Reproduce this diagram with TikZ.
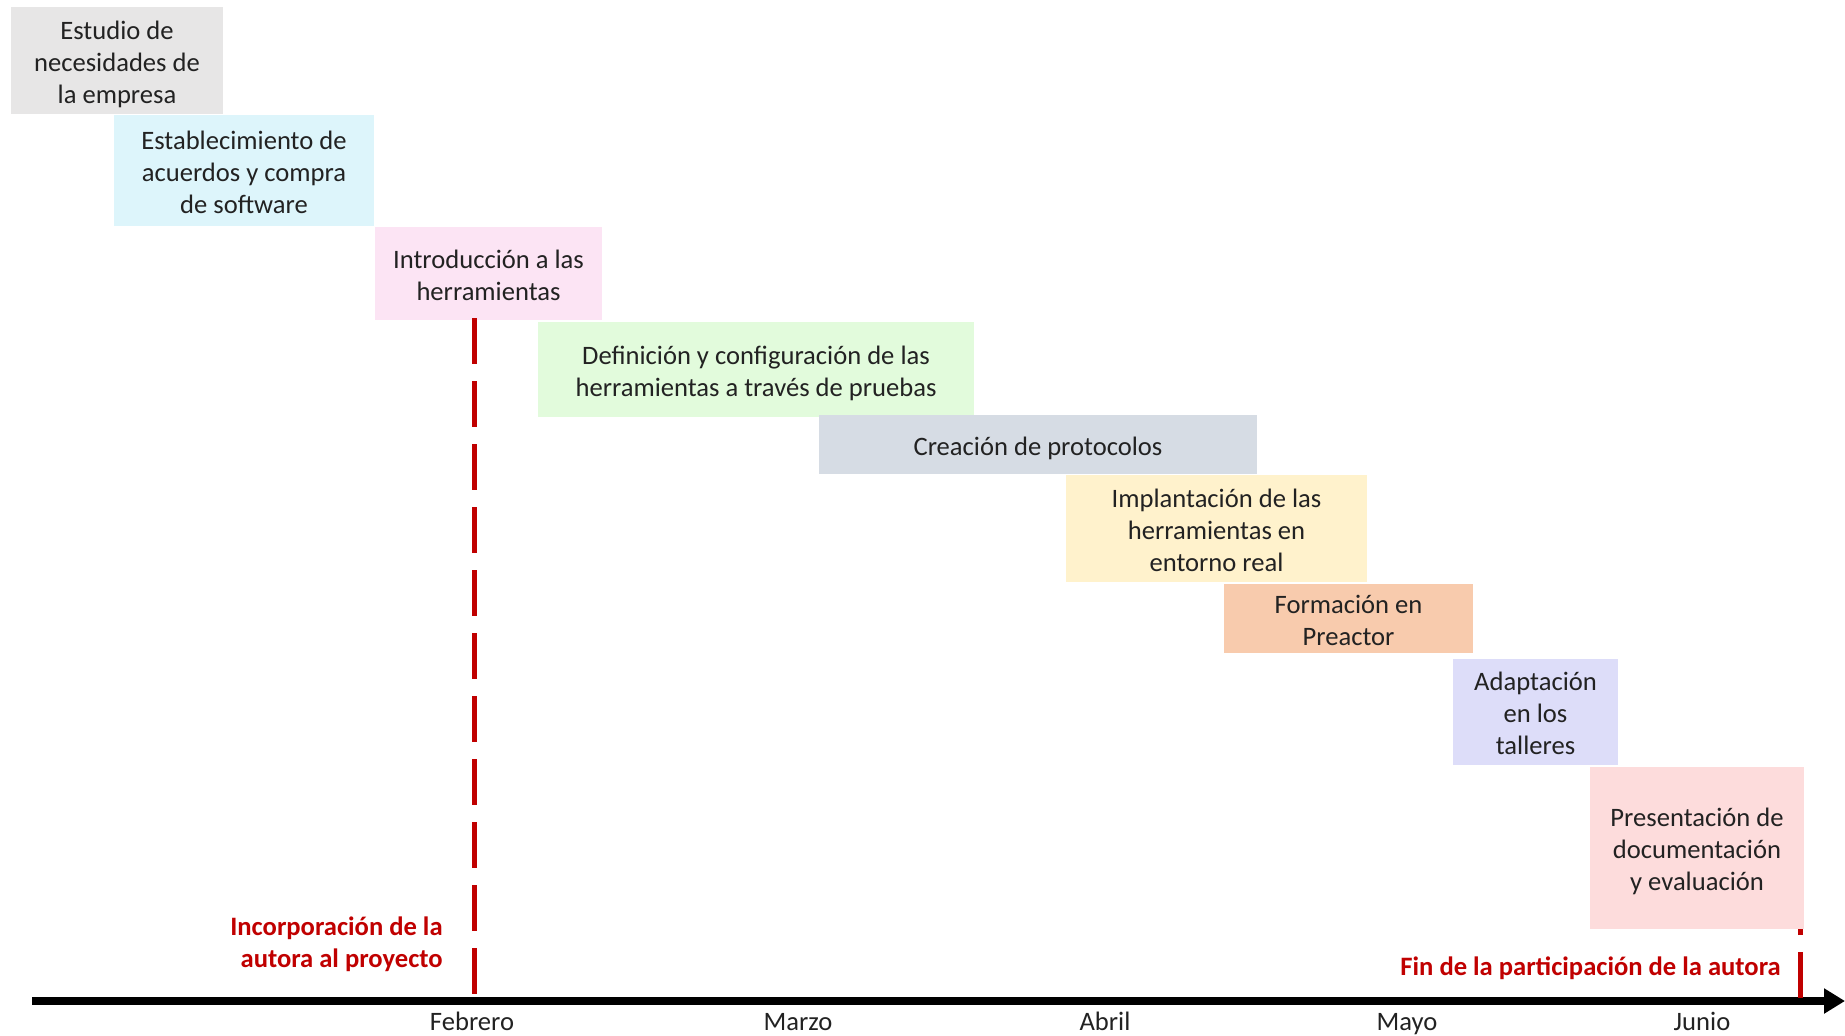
\documentclass[tikz,border=0pt]{standalone}
\usepackage{fontspec}
\setmainfont{Carlito}
\usetikzlibrary{arrows.meta}

\definecolor{txt}{HTML}{222222}
\definecolor{mark}{HTML}{C00000}
\definecolor{cGray}{HTML}{E7E6E6}
\definecolor{cCyan}{HTML}{DDF5FB}
\definecolor{cPink}{HTML}{FCE4F4}
\definecolor{cGreen}{HTML}{E2FBDC}
\definecolor{cSlate}{HTML}{D6DCE4}
\definecolor{cGold}{HTML}{FFF2CC}
\definecolor{cOrange}{HTML}{F8CBAD}
\definecolor{cLav}{HTML}{DDDDF9}
\definecolor{cRose}{HTML}{FDDCDC}

% line strut: fixed ascent/descent so every phase text sits on the same grid
\newcommand{\phstrut}{\rule[-2.6pt]{0pt}{16pt}}

\tikzset{
  phase/.style={draw=none, inner sep=0pt, align=center, text=txt,
    font=\fontsize{13.3}{16}\selectfont},
  month/.style={inner sep=0pt, anchor=base, text=txt,
    font=\fontsize{13.3}{16}\selectfont},
  note/.style={inner sep=0pt, text=mark,
    font=\fontsize{13.3}{16}\selectfont\bfseries},
  timeline/.style={line width=4pt, -{Triangle[length=10.5pt,width=12pt]}},
  milestone/.style={draw=mark, line width=2.5pt, dash pattern=on 23pt off 8.5pt}
}

\begin{document}
\begin{tikzpicture}[x=0.5pt, y=-0.5pt]
  \useasboundingbox (0,0) rectangle (1845,1035);

  % time axis
  \coordinate (axA) at (32,1001);
  \coordinate (axB) at (1845,1001);
  \draw[timeline] (axA) -- (axB);

  % months
  \node[month] (feb) at (472,1030.5) {Febrero};
  \node[month] (mar) at (798,1030) {Marzo};
  \node[month] (abr) at (1105,1030.5) {Abril};
  \node[month] (may) at (1407,1030) {Mayo};
  \node[month] (jun) at (1702,1030) {Junio};

  % end of participation marker (partly hidden by the last phase)
  \coordinate (endA) at (1800.5,998);
  \coordinate (endB) at (1800.5,889);
  \draw[milestone] (endA) -- (endB);

  % phases
  \node[phase, fill=cGray, minimum width=106pt, minimum height=53.5pt]
    (p1) at (117,60.5) {\phstrut Estudio de\\necesidades de\\la empresa\phstrut};
  \node[phase, fill=cCyan, minimum width=130pt, minimum height=55.5pt]
    (p2) at (244,170.5) {\phstrut Establecimiento de\\acuerdos y compra\\de software\phstrut};
  \node[phase, fill=cPink, minimum width=113.5pt, minimum height=46.5pt]
    (p3) at (488.5,273.5) {\phstrut Introducción a las\\herramientas\phstrut};
  \node[phase, fill=cGreen, minimum width=218pt, minimum height=47.5pt]
    (p4) at (756,369.5) {\phstrut Definición y configuración de las\\herramientas a través de pruebas\phstrut};
  \node[phase, fill=cSlate, minimum width=219pt, minimum height=29.5pt]
    (p5) at (1038,444.5) {\phstrut Creación de protocolos\phstrut};
  \node[phase, fill=cGold, minimum width=150.5pt, minimum height=53.5pt]
    (p6) at (1216.5,528.5) {\phstrut Implantación de las\\herramientas en\\entorno real\phstrut};
  \node[phase, fill=cOrange, minimum width=124.5pt, minimum height=34.5pt]
    (p7) at (1348.5,618.5) {\phstrut Formación en\\Preactor\phstrut};
  \node[phase, fill=cLav, minimum width=82.5pt, minimum height=53pt]
    (p8) at (1535.5,712) {\phstrut Adaptación\\en los\\talleres\phstrut};
  \node[phase, fill=cRose, minimum width=107pt, minimum height=81pt]
    (p9) at (1697,848) {\phstrut Presentación de\\documentación\\y evaluación\phstrut};

  % start of participation marker
  \coordinate (startA) at (474,318);
  \coordinate (startB) at (474,995);
  \draw[milestone] (startA) -- (startB);

  % notes
  \node[note, align=right, anchor=east] (inc) at (443,944)
    {Incorporación de la\\autora al proyecto};
  \node[note, anchor=base east] (fin) at (1781,975)
    {Fin de la participación de la autora};
\end{tikzpicture}
\end{document}
